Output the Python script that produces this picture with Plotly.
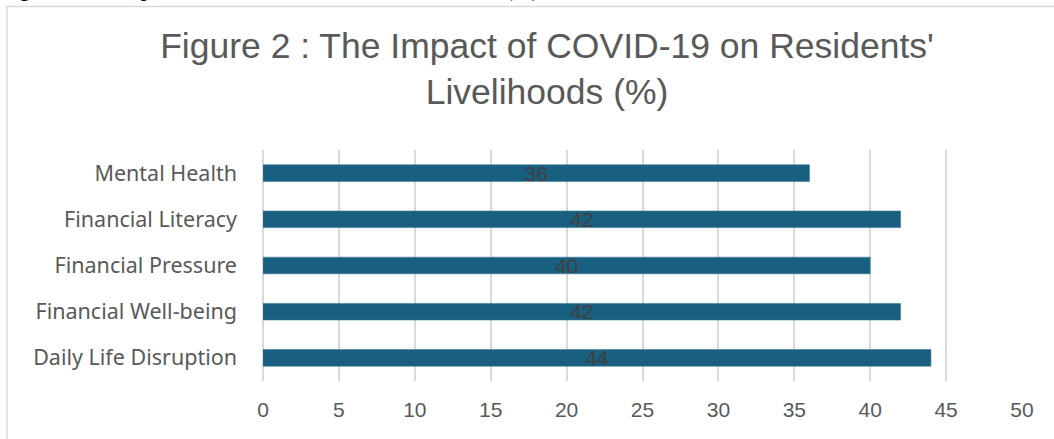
import plotly.graph_objects as go

# Survey results: share of residents reporting each impact (%)
categories = [
    "Daily Life Disruption",
    "Financial Well-being",
    "Financial Pressure",
    "Financial Literacy",
    "Mental Health",
]
values = [44, 42, 40, 42, 36]
x_ticks = [0, 5, 10, 15, 20, 25, 30, 35, 40, 45, 50]

W, H = 1054, 439
ML, MR, MT, MB = 263, 32, 150, 58
plot_w = W - ML - MR
plot_h = H - MT - MB


def px_to_paper_x(px):
    return (px - ML) / plot_w


def px_to_paper_y(py):
    return (H - MB - py) / plot_h


fig = go.Figure(
    go.Bar(
        x=values,
        y=categories,
        orientation="h",
        marker=dict(color="#185F80", line=dict(color="#3d7c99", width=0.6)),
        text=[str(v) for v in values],
        textposition="inside",
        insidetextanchor="middle",
        constraintext="none",
        textangle=0,
        insidetextfont=dict(family="Liberation Sans", size=21, color="#404040"),
        hoverinfo="skip",
    )
)

fig.update_layout(
    width=W,
    height=H,
    margin=dict(l=ML, r=MR, t=MT, b=MB),
    paper_bgcolor="white",
    plot_bgcolor="white",
    showlegend=False,
    bargap=0.64,
    title=dict(
        text="Figure 2 : The Impact of COVID-19 on Residents'<br>Livelihoods (%)",
        font=dict(family="Liberation Sans", size=35.5, color="#595959"),
        xref="container",
        yref="container",
        x=547 / W,
        xanchor="center",
        y=1 - 58 / H,
        yanchor="top",
    ),
    xaxis=dict(
        range=[0, 50],
        tickvals=x_ticks,
        ticktext=[str(t) for t in x_ticks],
        showgrid=True,
        gridcolor="#d9d9d9",
        gridwidth=1.5,
        zeroline=True,
        zerolinecolor="#d9d9d9",
        zerolinewidth=1.5,
        showline=False,
        ticks="",
        ticklabelstandoff=14,
        tickfont=dict(family="Liberation Sans", size=21, color="#595959"),
        fixedrange=True,
    ),
    yaxis=dict(
        categoryorder="array",
        categoryarray=categories,
        showgrid=False,
        zeroline=False,
        showline=False,
        ticks="",
        ticklabelstandoff=25,
        tickfont=dict(family="Noto Sans", size=21.5, color="#595959"),
        fixedrange=True,
    ),
    shapes=[
        dict(
            type="rect",
            xref="paper",
            yref="paper",
            x0=px_to_paper_x(7),
            x1=px_to_paper_x(1070),
            y0=px_to_paper_y(6.5),
            y1=px_to_paper_y(460),
            line=dict(color="#d9d9d9", width=1.5),
            layer="below",
        )
    ],
    annotations=[
        dict(
            text="Figure 2: The Impact of COVID-19 on Residents' Livelihoods (%)",
            xref="paper",
            yref="paper",
            x=px_to_paper_x(1),
            y=px_to_paper_y(4),
            xanchor="left",
            yanchor="bottom",
            showarrow=False,
            font=dict(family="Liberation Serif", size=19, color="black", weight="bold"),
        )
    ],
)

fig.write_html("out.html")
